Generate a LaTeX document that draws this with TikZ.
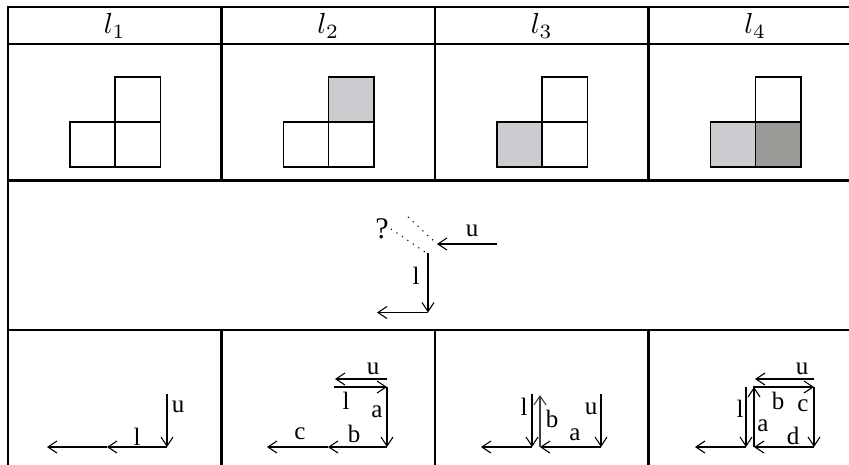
\documentclass[tikz,border=0pt]{standalone}
\usepackage{fontspec}
\newfontfamily\lblfont{Liberation Serif}
\usetikzlibrary{arrows.meta}
\definecolor{lgray}{RGB}{205,203,207}
\definecolor{dgray}{RGB}{153,155,151}
\tikzset{
  grid/.style={line width=2.6pt, line cap=rect},
  cell/.style={draw=black, line width=1.2pt},
  arr/.style={line width=1.1pt, -{Straight Barb[length=9pt,width=12pt,line width=1.1pt]}},
  lbl/.style={font=\lblfont\fontsize{25}{27}\selectfont, inner sep=0pt},
  qlbl/.style={font=\lblfont\fontsize{30}{32}\selectfont, inner sep=0pt},
  head/.style={scale=2.9, inner sep=0pt},
  dots/.style={line width=1.1pt, dash pattern=on 1.1pt off 5.5pt}
}
\begin{document}
\begin{tikzpicture}[x=1pt,y=-1pt]
\useasboundingbox (0,0) rectangle (849,464);
% table lines
\draw[grid] (8,7) -- (860,7);
\draw[grid] (8,44) -- (860,44);
\draw[grid] (8,180.5) -- (860,180.5);
\draw[grid] (8,330) -- (860,330);
\draw[grid] (8,7) -- (8,470);
\foreach \x in {221.5,435,648.5}{
  \draw[grid] (\x,7) -- (\x,180.5);
  \draw[grid] (\x,330) -- (\x,470);
}
% headers
\node[head] (h1) at (114.75,26) {$l_1$};
\node[head] (h2) at (328.25,26) {$l_2$};
\node[head] (h3) at (541.75,26) {$l_3$};
\node[head] (h4) at (755.25,26) {$l_4$};
% squares
\foreach \c/\fa/\fb/\fc in {0/white/white/white, 213.5/white/white/lgray, 427/lgray/white/white, 640.5/lgray/dgray/white}{
  \begin{scope}[xshift=\c]
    \draw[cell, fill=\fa] (70,122) rectangle (115,167);
    \draw[cell, fill=\fb] (115,122) rectangle (160.5,167);
    \draw[cell, fill=\fc] (115,77) rectangle (160.5,122);
  \end{scope}
}
% middle row
\coordinate (mc) at (428,253);
\coordinate (mue) at (497,244);
\coordinate (muw) at (437,244);
\coordinate (mb) at (428,312.5);
\coordinate (mw) at (377,312.5);
\coordinate (d1a) at (391,229);
\coordinate (d1b) at (425,252);
\coordinate (d2a) at (408,217);
\coordinate (d2b) at (436,243);
\draw[arr] (mue) -- (muw);
\draw[arr] (mc) -- (mb);
\draw[arr] (mb) -- (mw);
\draw[dots] (d1a) -- (d1b);
\draw[dots] (d2a) -- (d2b);
\node[qlbl] (mq) at (382,229) {?};
\node[lbl] (mu) at (472,231) {u};
\node[lbl] (ml) at (416,276) {l};
% bottom row, column 1
\coordinate (a1) at (167,394);
\coordinate (a2) at (167,447);
\coordinate (a3) at (107,447);
\coordinate (a4) at (47,447);
\draw[arr] (a1) -- (a2);
\draw[arr] (a2) -- (a3);
\draw[arr] (a3) -- (a4);
\node[lbl] (a1u) at (178,407) {u};
\node[lbl] (a1l) at (137,437) {l};
% column 2
\coordinate (b1) at (387,379);
\coordinate (b2) at (335,379);
\coordinate (b3) at (334,387);
\coordinate (b4) at (387,387);
\coordinate (b5) at (387,447);
\coordinate (b6) at (328,447);
\coordinate (b7) at (267,447);
\draw[arr] (b1) -- (b2);
\draw[arr] (b3) -- (b4);
\draw[arr] (b4) -- (b5);
\draw[arr] (b5) -- (b6);
\draw[arr] (b6) -- (b7);
\node[lbl] (b2u) at (373,369) {u};
\node[lbl] (b2l) at (346,401) {l};
\node[lbl] (b2a) at (377,412) {a};
\node[lbl] (b2b) at (354,434) {b};
\node[lbl] (b2c) at (300,434) {c};
% column 3
\coordinate (c1) at (601,394);
\coordinate (c2) at (601,447);
\coordinate (c3) at (540,447);
\coordinate (c4) at (540,395);
\coordinate (c5) at (532,394);
\coordinate (c6) at (532,447);
\coordinate (c7) at (481,447);
\draw[arr] (c1) -- (c2);
\draw[arr] (c2) -- (c3);
\draw[arr, draw=black!75, line width=1.6pt] (c3) -- (c4);
\draw[arr] (c5) -- (c6);
\draw[arr] (c6) -- (c7);
\node[lbl] (c3u) at (591,409) {u};
\node[lbl] (c3a) at (575,435) {a};
\node[lbl] (c3b) at (552,419) {b};
\node[lbl] (c3l) at (524,407) {l};
% column 4
\coordinate (e1) at (814,379);
\coordinate (e2) at (755,379);
\coordinate (e3) at (753,387);
\coordinate (e4) at (814,387);
\coordinate (e5) at (814,447);
\coordinate (e6) at (754,447);
\coordinate (e7) at (754,387);
\coordinate (e8) at (746,387);
\coordinate (e9) at (746,447);
\coordinate (e10) at (695,447);
\draw[arr] (e1) -- (e2);
\draw[arr] (e3) -- (e4);
\draw[arr] (e4) -- (e5);
\draw[arr] (e5) -- (e6);
\draw[arr] (e6) -- (e7);
\draw[arr] (e8) -- (e9);
\draw[arr] (e9) -- (e10);
\node[lbl] (e4u) at (802,369) {u};
\node[lbl] (e4b) at (778,401) {b};
\node[lbl] (e4c) at (803,406) {c};
\node[lbl] (e4d) at (793,436) {d};
\node[lbl] (e4a) at (763,426) {a};
\node[lbl] (e4l) at (740,409) {l};
\end{tikzpicture}
\end{document}
